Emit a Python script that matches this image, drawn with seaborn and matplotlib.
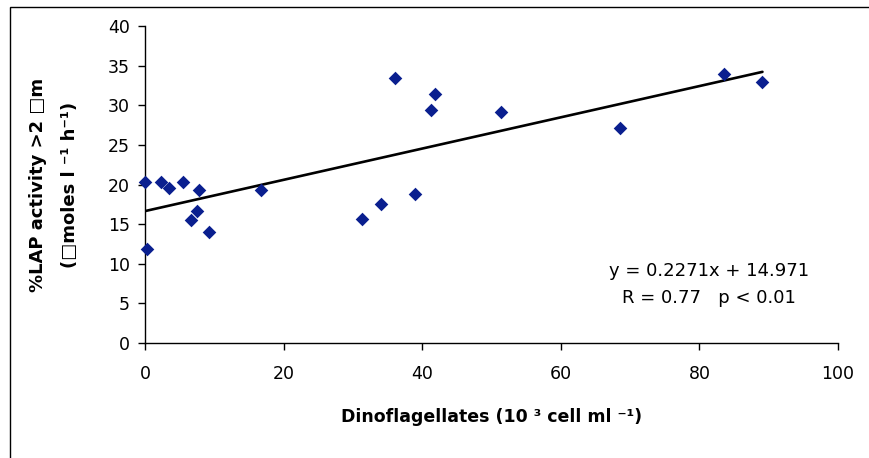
import pandas as pd
import matplotlib.pyplot as plt
import seaborn as sns
from matplotlib.patches import Rectangle

# Data
dino = [0.0, 0.3, 2.3, 3.5, 5.5, 6.7, 7.5, 7.8, 9.2, 16.7,
        31.3, 34.0, 36.1, 39.0, 41.2, 41.8, 51.4, 68.6, 83.6, 89.1]
lap_pct = [20.3, 11.8, 20.3, 19.6, 20.3, 15.5, 16.6, 19.3, 14.0, 19.3,
           15.6, 17.6, 33.4, 18.8, 29.4, 31.4, 29.2, 27.1, 34.0, 32.9]
x_ticks = [0, 20, 40, 60, 80, 100]
y_ticks = [0, 5, 10, 15, 20, 25, 30, 35, 40]
eq_text = "y = 0.2271x + 14.971\nR = 0.77   p < 0.01"

df = pd.DataFrame({'dino': dino, 'lap': lap_pct})

sns.set_style("ticks")
fam = ['DejaVu Sans']
plt.rcParams['font.family'] = fam
plt.rcParams['text.color'] = 'black'
plt.rcParams['axes.labelcolor'] = 'black'

fig = plt.figure(figsize=(8.7, 4.58), dpi=100)
ax = fig.add_axes([145 / 870, 1 - 343 / 458, (838 - 145) / 870, (343 - 26) / 458])

sns.regplot(x='dino', y='lap', data=df, ci=None, ax=ax, marker='D',
            scatter_kws={'s': 48, 'color': '#0a1f8f', 'linewidths': 0,
                         'clip_on': False, 'zorder': 3, 'alpha': 1},
            line_kws={'color': 'black', 'lw': 1.9, 'zorder': 2})

ax.set_xlim(0, 100)
ax.set_ylim(0, 40)
ax.set_xticks(x_ticks)
ax.set_yticks(y_ticks)
ax.tick_params(axis='both', labelsize=12.5, colors='black', width=1, length=5)
ax.tick_params(axis='x', pad=11)
ax.tick_params(axis='y', pad=6)
for s in ['left', 'bottom']:
    ax.spines[s].set_color('black')
    ax.spines[s].set_linewidth(1)
sns.despine(ax=ax)

ax.set_xlabel('Dinoflagellates (10 \u00b3 cell ml \u207b\u00b9)', fontsize=12.5,
              fontweight='bold', labelpad=18, color='black')
ax.set_ylabel('%LAP activity >2 \u25a1m\n(\u25a1moles l \u207b\u00b9 h\u207b\u00b9)', fontsize=13,
              fontweight='bold', labelpad=21, linespacing=1.95, color='black')

ax.text(81.4, 7.4, eq_text, ha='center', va='center', fontsize=13,
        linespacing=1.6, color='black')

# outer chart frame (cropped on right and bottom)
fig.add_artist(Rectangle((10 / 870, -0.5), 1.5, 1 - 7 / 458 + 0.5,
                         transform=fig.transFigure, fill=False,
                         edgecolor='black', lw=1))

fig.savefig('out.png', dpi=100)
